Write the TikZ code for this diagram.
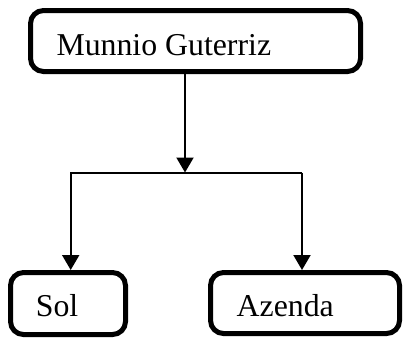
\documentclass[tikz,border=0pt]{standalone}
\usepackage{fontspec}
\setmainfont{Liberation Serif}
\usetikzlibrary{arrows.meta}
\begin{document}
\begin{tikzpicture}[x=1pt,y=-1pt,
  box/.style={draw,rectangle,rounded corners=13pt,line width=5pt,inner sep=0pt},
  lbl/.style={inner sep=0pt,anchor=base west,font=\fontsize{31.8}{36}\selectfont},
  conn/.style={line width=2pt,-{Triangle[length=15pt,width=17pt]}}]
\useasboundingbox (0,0) rectangle (403,338);
\node[box,minimum width=330pt,minimum height=61pt] (top) at (195.5,41) {};
\node[box,minimum width=115pt,minimum height=62pt] (sol) at (68,303.5) {};
\node[box,minimum width=189pt,minimum height=61pt] (az) at (305,303) {};
\node[lbl] (ttop) at (56.3,55) {Munnio Guterriz};
\node[lbl] (tsol) at (35.7,316.7) {Sol};
\node[lbl] (taz) at (236.5,316.7) {Azenda};
\coordinate (j) at (185,172.5);
\coordinate (jl) at (70.7,172.5);
\coordinate (jr) at (302,172.5);
\draw[conn] (top.south -| j) -- (j);
\draw[conn] (jr) -- (jl) -- (jl |- sol.north);
\draw[conn] (jr) -- (jr |- az.north);
\end{tikzpicture}
\end{document}
